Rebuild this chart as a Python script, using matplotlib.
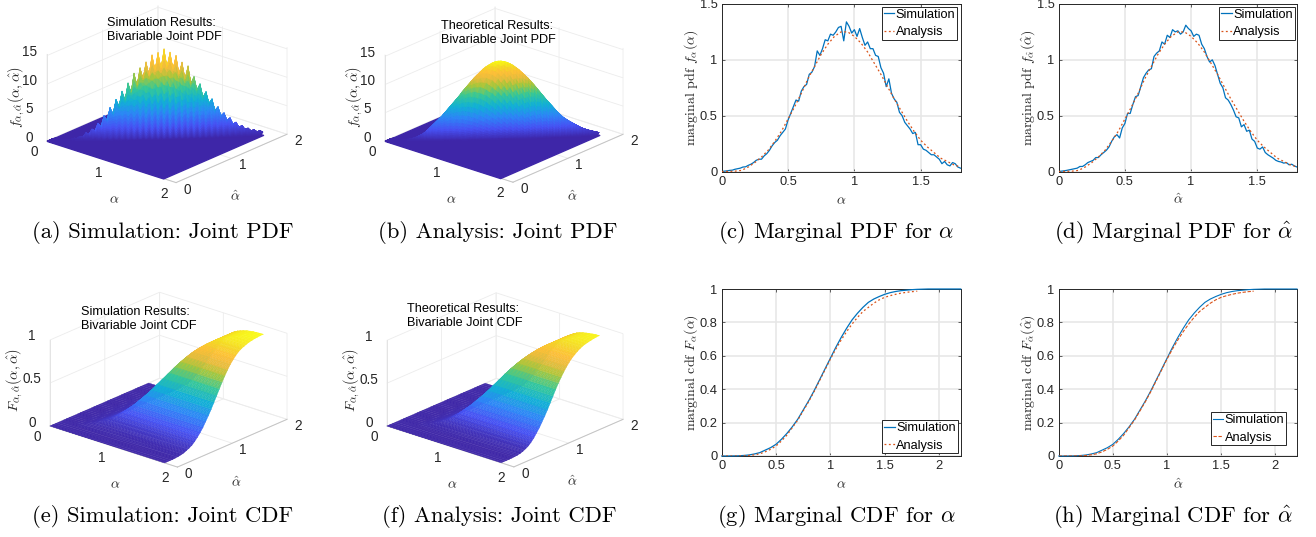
import numpy as np
import matplotlib
matplotlib.use("Agg")
import matplotlib.pyplot as plt
from matplotlib.colors import LinearSegmentedColormap, Normalize
from mpl_toolkits.mplot3d import proj3d
from mpl_toolkits.mplot3d.art3d import Poly3DCollection

plt.rcParams['font.family'] = ['Liberation Sans', 'DejaVu Sans']
plt.rcParams['mathtext.fontset'] = 'cm'
plt.rcParams['axes.unicode_minus'] = False

W, H = 1316, 537

# ---------- marginal PDFs (step 0.02 for simulation, 0.05 for analysis) ----------
pdf_sim_alpha = [0, .003, .006, .01, .012, .02, .025, .03, .04, .042, .055, .065, .08, .10, .11, .11, .14, .16, .19, .23,
                 .26, .28, .32, .35, .38, .46, .52, .58, .64, .63, .72, .76, .78, .87, .89, .94, 1.08, 1.04, 1.10, 1.18,
                 1.17, 1.23, 1.22, 1.25, 1.29, 1.30, 1.17, 1.34, 1.30, 1.24, 1.27, 1.21, 1.28, 1.20, 1.13, 1.16, 1.10, 1.10, 1.04, 1.03,
                 .93, .88, .76, .83, .70, .65, .62, .53, .50, .44, .41, .38, .34, .35, .24, .24, .20, .19, .17, .15,
                 .15, .13, .11, .07, .09, .06, .05, .08, .07, .04, .03]
pdf_sim_hat = [0, .003, .006, .01, .015, .02, .025, .03, .045, .045, .06, .08, .09, .10, .125, .125, .15, .17, .19, .22,
               .27, .31, .33, .30, .39, .43, .52, .52, .60, .67, .68, .76, .84, .88, .91, .92, 1.03, 1.06, 1.08, 1.16,
               1.14, 1.22, 1.20, 1.27, 1.25, 1.26, 1.23, 1.25, 1.31, 1.28, 1.26, 1.21, 1.23, 1.22, 1.14, 1.10, 1.03, .98, 1.00, .95,
               .87, .79, .75, .66, .64, .60, .55, .49, .48, .40, .42, .36, .37, .29, .27, .21, .20, .22, .17, .15,
               .135, .12, .10, .09, .085, .075, .08, .06, .065, .05, .04]
pdf_analysis = [0, .001, .003, .01, .04, .08, .13, .19, .27, .36, .47, .58, .70, .83, .94, 1.05, 1.14, 1.21, 1.25, 1.25,
                1.21, 1.15, 1.07, .97, .87, .76, .65, .55, .45, .36, .28, .22, .17, .12, .09, .06, .04]

# ---------- marginal CDFs (step 0.05) ----------
cdf_sim = [0, 0, .0005, .001, .003, .006, .012, .02, .035, .05, .07, .10, .135, .175, .22, .275, .33, .39, .455, .52,
           .585, .65, .71, .765, .815, .855, .89, .92, .94, .955, .968, .978, .985, .99, .993, .996, .998, .999, 1, 1,
           1, 1, 1, 1, 1]
cdf_analysis = [0, 0, 0, .0005, .001, .003, .007, .013, .025, .04, .06, .09, .125, .17, .215, .27, .325, .385, .45, .515,
                .58, .64, .695, .745, .79, .83, .865, .89, .915, .935, .95, .96, .968, .975, .98, .984, .987]

# ---------- joint PDF: height along the ridge alpha = alpha-hat (step 0.025) ----------
ridge_sim = [0, .02, .03, .02, .06, .1, .06, .2, .12, .4, .28, .7, .55, 1.3, 1.0, 1.9, 1.6, 2.9, 2.3, 4.2,
             3.4, 5.6, 4.5, 7.0, 5.8, 8.4, 6.9, 9.8, 8.2, 11.5, 9.4, 12.4, 10.6, 13.4, 11.2, 14.6, 12.0, 15.0, 12.3, 15.6,
             12.5, 15.0, 12.1, 14.4, 11.2, 13.2, 10.3, 12.5, 9.5, 10.6, 8.3, 9.3, 7.0, 7.9, 5.9, 6.6, 4.6, 5.2, 3.6, 4.1,
             2.8, 3.2, 2.1, 2.4, 1.5, 1.8, 1.1, 1.3, .8, 1.0, .6, .8, .5]
ridge_analysis = [0, .005, .01, .02, .03, .05, .08, .13, .2, .31, .45, .65, .9, 1.2, 1.6, 2.1, 2.6, 3.1, 3.6, 4.1,
                  4.7, 5.3, 5.9, 6.5, 7.1, 7.7, 8.4, 9.0, 9.6, 10.2, 10.8, 11.3, 11.8, 12.3, 12.7, 13.0, 13.3, 13.5, 13.6, 13.6,
                  13.5, 13.35, 13.1, 12.8, 12.4, 12.0, 11.5, 11.0, 10.5, 9.9, 9.3, 8.65, 8.0, 7.35, 6.7, 6.1, 5.5, 4.9, 4.3, 3.8,
                  3.3, 2.95, 2.6, 2.3, 2.0, 1.7, 1.4, 1.2, 1.0, .85, .7, .57, .45]
# fall-off of the height with the distance alpha - alpha-hat
ridge_offsets = [0, .005, .01, .015, .02, .025, .03, .035, .04, .045, .05, .055, .06, .065, .07, .075, .08, .085, .09, .095, .10, .12, .14]
falloff_a = [1, .99, .96, .91, .85, .78, .69, .61, .52, .44, .36, .29, .23, .18, .135, .10, .07, .05, .035, .024, .015, .003, 0]
falloff_b = [1, .985, .94, .88, .81, .73, .64, .56, .47, .39, .32, .26, .20, .155, .115, .085, .06, .043, .03, .02, .013, .002, 0]
falloff_sim_a = [1, .995, .97, .93, .88, .81, .74, .66, .58, .50, .42, .36, .30, .25, .20, .16, .12, .095, .07, .05, .03, .006, 0]
falloff_sim_b = [1, .97, .90, .80, .70, .60, .50, .42, .34, .28, .22, .17, .13, .10, .07, .05, .035, .026, .018, .012, .008, .002, 0]

# ---------- joint CDF: values on the diagonal alpha = alpha-hat ----------
joint_diag_sim = [0, 0, .0003, .0008, .002, .005, .010, .018, .031, .045, .064, .093, .127, .166, .210, .264, .319, .378, .443, .508,
                  .574, .640, .701, .757, .808, .850, .886, .917, .938, .953, .967, .977, .984, .989, .993, .995, .997]
joint_diag_analysis = [0, 0, 0, .0003, .0008, .002, .006, .011, .022, .036, .055, .084, .118, .162, .206, .260, .314, .373, .438, .503,
                       .569, .630, .686, .737, .783, .824, .860, .886, .912, .932, .948, .958, .966, .974, .979, .983, .986]

tick_labels_joint = ['0', '1', '2']

parula = LinearSegmentedColormap.from_list('parula', [
    (0.00, (0.2422, 0.1504, 0.6603)), (0.14, (0.2810, 0.3228, 0.9579)), (0.29, (0.1786, 0.5289, 0.9682)),
    (0.43, (0.0689, 0.6948, 0.8394)), (0.57, (0.2161, 0.7843, 0.5923)), (0.70, (0.6720, 0.7793, 0.2227)),
    (0.78, (0.90, 0.74, 0.24)), (0.86, (0.9970, 0.7500, 0.2199)), (0.93, (0.96, 0.85, 0.15)),
    (1.00, (0.9769, 0.9839, 0.0805))])

BLUE, RED, INK, GRID = '#0072BD', '#D95319', '#262626', '#e6e6e6'

fig = plt.figure(figsize=(W / 100, H / 100), dpi=100)


def setup_3d(zmax, zticks, zticklabels, zlabel, origin, right, xlab, ylab, zlab):
    ax = fig.add_axes([.1, .1, .2, .2 * W / H], projection='3d', proj_type='ortho',
                      computed_zorder=False)
    ax.view_init(elev=22, azim=-49.3)
    ax.set_box_aspect((1, 1, .552))
    ax.set_xlim(0, 2); ax.set_ylim(0, 2); ax.set_zlim(0, zmax)
    ax.set_facecolor('none')
    ax.patch.set_alpha(0)
    for axis in (ax.xaxis, ax.yaxis, ax.zaxis):
        axis.set_pane_color((1, 1, 1, 0))
        axis.pane.set_edgecolor('#ededed')
        axis.line.set_color('#c4c4c4')
        axis.line.set_linewidth(.7)
        axis._axinfo['grid'].update(color='#ececec', linewidth=.6)
        axis._axinfo['tick'].update(inward_factor=0, outward_factor=0)
    ax.zaxis.set_ticks_position('lower')
    ax.zaxis.line.set_color('#e4e4e4')
    ax.set_xticks([0, 1, 2]); ax.set_xticklabels(tick_labels_joint)
    ax.set_yticks([0, 1, 2]); ax.set_yticklabels(tick_labels_joint)
    ax.set_zticks(zticks); ax.set_zticklabels(zticklabels)
    ax.tick_params(axis='x', labelsize=9.8, labelcolor=INK, pad=2.5)
    ax.tick_params(axis='y', labelsize=9.8, labelcolor=INK, pad=0)
    ax.tick_params(axis='z', labelsize=9.8, labelcolor=INK, pad=-1)
    for axis in (ax.xaxis, ax.yaxis, ax.zaxis):
        for lbl in axis.get_ticklabels():
            lbl.set_va('baseline')
    fig.text(xlab[0] / W, 1 - xlab[1] / H, r'$\alpha$', fontsize=10, color=INK, ha='center', va='center')
    fig.text(ylab[0] / W, 1 - ylab[1] / H, r'$\hat{\alpha}$', fontsize=10, color=INK, ha='center', va='center')
    fig.text(zlab[0] / W, 1 - zlab[1] / H, zlabel, fontsize=10.3, color=INK, rotation=90, ha='center', va='center')
    # place the axes box so the floor corners land where they should
    for _ in range(2):
        ax.apply_aspect()
        M = ax.get_proj()
        xs, ys, _z = proj3d.proj_transform(np.array([0, 2.]), np.array([0, 2.]), np.array([0, 0.]), M)
        p = ax.transData.transform(np.c_[xs, ys])
        box = ax.get_position()
        cx, cy = (box.x0 + box.width / 2) * W, (box.y0 + box.height / 2) * H
        wpx = box.width * W
        target = np.array([[origin[0], H - origin[1]], [right[0], H - right[1]]], float)
        s = np.hypot(*(target[1] - target[0])) / np.hypot(*(p[1] - p[0]))
        new_c = target[0] - (p[0] - [cx, cy]) * s
        wnew = wpx * s
        ax.set_position([(new_c[0] - wnew / 2) / W, (new_c[1] - wnew / 2) / H, wnew / W, wnew / H])
    return ax


def add_tris(ax, X, Y, Z, norm, zorder=2):
    X, Y, Z = np.asarray(X), np.asarray(Y), np.asarray(Z)
    n, m = Z.shape
    polys, vals = [], []
    for i in range(n - 1):
        for j in range(m - 1):
            a = (X[i, j], Y[i, j], Z[i, j]); b = (X[i + 1, j], Y[i + 1, j], Z[i + 1, j])
            c = (X[i + 1, j + 1], Y[i + 1, j + 1], Z[i + 1, j + 1]); d = (X[i, j + 1], Y[i, j + 1], Z[i, j + 1])
            polys += [[a, b, c], [a, c, d]]
            vals += [(a[2] + b[2] + c[2]) / 3, (a[2] + c[2] + d[2]) / 3]
    cols = parula(norm(np.array(vals)))
    pc = Poly3DCollection(polys, facecolors=cols, edgecolors=cols, linewidths=.25, zorder=zorder)
    ax.add_collection3d(pc)


def joint_pdf(ax, ridge, step, fall_a, fall_b, end=1.8):
    t = np.arange(len(ridge)) * step
    off = np.array(ridge_offsets)
    d = np.r_[-off[::-1], off[1:]]
    fa = np.r_[fall_a[::-1], fall_a[1:]]
    fb = np.r_[fall_b[::-1], fall_b[1:]]
    X = np.clip(t[:, None] + d[None, :] / 2, 0, end)
    Y = np.clip(t[:, None] - d[None, :] / 2, 0, end)
    F = np.array([fa if i % 2 == 0 else fb for i in range(len(t))])
    Z = np.array(ridge)[:, None] * F
    norm = Normalize(0, max(ridge))
    floor = Poly3DCollection([[(0, 0, 0), (end, 0, 0), (end, end, 0), (0, end, 0)]],
                             facecolors=parula(0.), edgecolors=parula(0.), zorder=1)
    ax.add_collection3d(floor)
    add_tris(ax, X, Y, Z, norm)


def joint_cdf(ax, marg, diag, step=.05):
    n = len(diag)
    g = np.arange(n) * step
    X, Y = np.meshgrid(g, g, indexing='ij')
    Z = np.array([[diag[i] if i == j else marg[min(i, j)] for j in range(n)] for i in range(n)])
    add_tris(ax, X, Y, Z, Normalize(0, 1))


pdf_zlabel = r'$f_{\alpha,\hat{\alpha}}(\alpha,\hat{\alpha})$'
cdf_zlabel = r'$F_{\alpha,\hat{\alpha}}(\alpha,\hat{\alpha})$'

a = setup_3d(15.3, [0, 5, 10, 15], ['0', '5', '10', '15'], pdf_zlabel, (47, 141), (287, 133),
             (114, 199), (235, 197), (17, 97))
joint_pdf(a, ridge_sim, .025, falloff_sim_a, falloff_sim_b)
b = setup_3d(15.3, [0, 5, 10, 15], ['0', '5', '10', '15'], pdf_zlabel, (385, 141), (623, 133),
             (451, 199), (572, 197), (355, 97))
joint_pdf(b, ridge_analysis, .025, falloff_a, falloff_b)
e = setup_3d(1, [0, .5, 1], ['0', '0.5', '1'], cdf_zlabel, (50, 426), (287, 418),
             (115, 484), (236, 483), (15, 380))
joint_cdf(e, cdf_sim, joint_diag_sim)
f = setup_3d(1, [0, .5, 1], ['0', '0.5', '1'], cdf_zlabel, (387, 426), (623, 418),
             (452, 484), (572, 482), (352, 380))
joint_cdf(f, cdf_analysis, joint_diag_analysis)

notes = [(107, 22, 'Simulation Results:\nBivariable Joint PDF'),
         (441, 25, 'Theoretical Results:\nBivariable Joint PDF'),
         (81, 311, 'Simulation Results:\nBivariable Joint CDF'),
         (407, 308, 'Theoretical Results:\nBivariable Joint CDF')]
for x, y, s in notes:
    fig.text(x / W, 1 - (y + 8) / H, s, fontsize=9.05, color='k', ha='left', va='center', linespacing=1.3)


def marginal(box, xlim, ylim, xticks, xticklabels, yticks, yticklabels, xlabel, ylabel, series, legend_anchor, legend_loc, lw=.9):
    l, t, r, bt = box
    ax = fig.add_axes([l / W, 1 - bt / H, (r - l) / W, (bt - t) / H])
    for x, y, color, style in series:
        ax.plot(x, y, color=color, lw=lw, ls=style, clip_on=(color != BLUE or ylim[1] != 1),
                label='Simulation' if color == BLUE else 'Analysis', zorder=3)
    ax.set_xlim(*xlim); ax.set_ylim(*ylim)
    ax.set_xticks(xticks); ax.set_xticklabels(xticklabels)
    ax.set_yticks(yticks); ax.set_yticklabels(yticklabels)
    ax.grid(True, color=GRID, lw=1.1)
    ax.set_axisbelow(True)
    ax.tick_params(direction='in', length=2.4, width=.5, top=True, right=True, labelsize=9.3,
                   colors=INK, pad=3)
    for s in ax.spines.values():
        s.set_color(INK); s.set_linewidth(.7)
    ax.set_xlabel(xlabel, fontsize=10, color=INK)
    ax.xaxis.set_label_coords(.5, -.13)
    ax.set_ylabel(ylabel, fontsize=10, family='cmr10', color=INK)
    ax.yaxis.set_label_coords(-.092, .5)
    leg = ax.legend(loc=legend_loc, bbox_to_anchor=legend_anchor, borderaxespad=0, fancybox=False, framealpha=1,
                    edgecolor=INK, fontsize=9.2, handlelength=.8, handletextpad=.12, borderpad=.15,
                    labelspacing=.42)
    leg.get_frame().set_linewidth(.7)
    leg.set_zorder(5)
    return ax


x_sim = np.arange(len(pdf_sim_alpha)) * .02
x_an = np.arange(len(pdf_analysis)) * .05
x_cs = np.arange(len(cdf_sim)) * .05
x_ca = np.arange(len(cdf_analysis)) * .05
xt = [0, .5, 1, 1.5]; xtl = ['0', '0.5', '1', '1.5']
yt = [0, .5, 1, 1.5]; ytl = ['0', '0.5', '1', '1.5']
xt2 = [0, .5, 1, 1.5, 2]; xtl2 = ['0', '0.5', '1', '1.5', '2']
yt2 = [0, .2, .4, .6, .8, 1]; ytl2 = ['0', '0.2', '0.4', '0.6', '0.8', '1']
dots = (0, (1.5, 2))

marginal((721.7, 4, 960.5, 171.5), (0, 1.8), (0, 1.5), xt, xtl, yt, ytl, r'$\alpha$',
         r'marginal pdf $f_{\alpha}(\alpha)$',
         [(x_sim, pdf_sim_alpha, BLUE, '-'), (x_an, pdf_analysis, RED, dots)], (.987, .983), 'upper right')
marginal((1058.7, 4, 1297, 171.5), (0, 1.8), (0, 1.5), xt, xtl, yt, ytl, r'$\hat{\alpha}$',
         r'marginal pdf $f_{\hat{\alpha}}(\hat{\alpha})$',
         [(x_sim, pdf_sim_hat, BLUE, '-'), (x_an, pdf_analysis, RED, dots)], (.99, .983), 'upper right')
marginal((721.7, 289, 960.7, 456), (0, 2.2), (0, 1), xt2, xtl2, yt2, ytl2, r'$\alpha$',
         r'marginal cdf $F_{\alpha}(\alpha)$',
         [(x_cs, cdf_sim, BLUE, '-'), (x_ca, cdf_analysis, RED, dots)], (.987, .015), 'lower right')
marginal((1058.7, 289, 1297, 456), (0, 2.2), (0, 1), xt2, xtl2, yt2, ytl2, r'$\hat{\alpha}$',
         r'marginal cdf $F_{\hat{\alpha}}(\hat{\alpha})$',
         [(x_cs, cdf_sim, BLUE, '-'), (x_ca, cdf_analysis, RED, (0, (3, 1.5)))], (.955, .063), 'lower right', lw=.8)

captions = [(163, 233, '(a) Simulation: Joint PDF'), (498, 233, '(b) Analysis: Joint PDF'),
            (836, 233, r'(c) Marginal PDF for $\alpha$'), (1173, 233, r'(d) Marginal PDF for $\hat{\alpha}$'),
            (163, 517, '(e) Simulation: Joint CDF'), (499, 517, '(f) Analysis: Joint CDF'),
            (836, 517, r'(g) Marginal CDF for $\alpha$'), (1173, 517, r'(h) Marginal CDF for $\hat{\alpha}$')]
for x, y, s in captions:
    fig.text(x / W, 1 - y / H, s, fontsize=16.3, family='cmr10', color='k', ha='center', va='center')

fig.savefig('out.png', dpi=100)
